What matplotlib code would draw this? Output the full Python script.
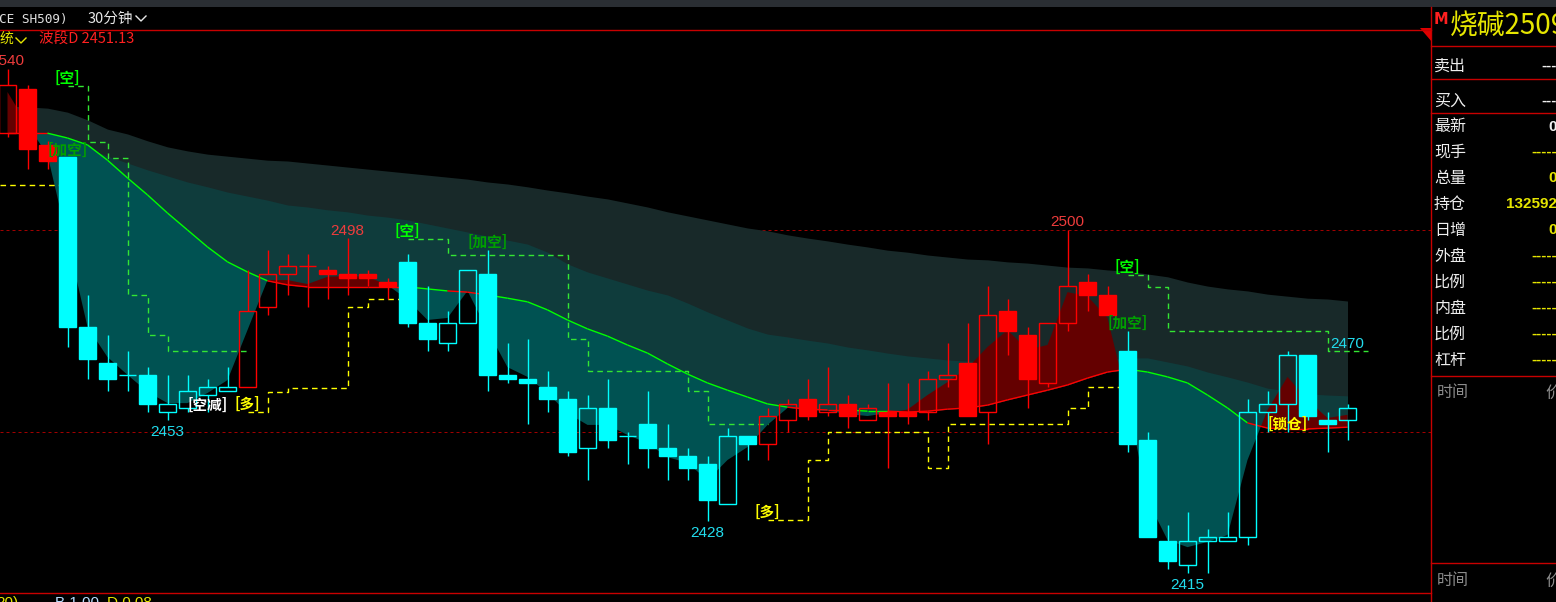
import numpy as np
import matplotlib
matplotlib.use("Agg")
import matplotlib.pyplot as plt
from matplotlib.patches import Rectangle, Polygon
from matplotlib.collections import LineCollection
from matplotlib.lines import Line2D
from matplotlib.transforms import Affine2D

plt.rcParams['font.family'] = ['Noto Sans CJK SC', 'DejaVu Sans']

# ------------------------------------------------------------------ data
opens = [2524, 2535, 2521, 2518, 2476, 2467, 2464, 2464, 2455, 2456,
         2459, 2460, 2461, 2481, 2489, 2491, 2490, 2489, 2489, 2487,
         2492, 2477, 2472, 2477, 2489, 2464, 2463, 2461, 2458, 2446,
         2456, 2449, 2452, 2446, 2444, 2442, 2432, 2449, 2447, 2453,
         2458, 2455, 2457, 2453, 2455, 2455, 2455, 2463, 2467, 2455,
         2480, 2474, 2462, 2477, 2487, 2484, 2470, 2448, 2423, 2417,
         2423, 2423, 2424, 2455, 2457, 2469, 2453, 2453]
highs = [2540, 2536, 2522, 2518, 2484, 2474, 2470, 2466, 2464, 2464,
         2463, 2466, 2490, 2495, 2494, 2494, 2491, 2498, 2490, 2488,
         2494, 2486, 2480, 2490, 2495, 2472, 2473, 2465, 2460, 2459,
         2463, 2450, 2460, 2452, 2446, 2444, 2451, 2449, 2456, 2458,
         2463, 2466, 2459, 2457, 2462, 2462, 2465, 2472, 2477, 2486,
         2483, 2476, 2477, 2500, 2489, 2486, 2475, 2450, 2427, 2430,
         2426, 2430, 2458, 2460, 2470, 2469, 2455, 2457]
lows = [2523, 2515, 2515, 2471, 2463, 2460, 2460, 2455, 2453, 2455,
        2455, 2460, 2461, 2479, 2484, 2481, 2483, 2484, 2486, 2483,
        2476, 2470, 2470, 2477, 2460, 2462, 2452, 2455, 2444, 2438,
        2446, 2442, 2441, 2438, 2438, 2428, 2432, 2443, 2443, 2450,
        2453, 2454, 2451, 2453, 2441, 2452, 2453, 2461, 2454, 2447,
        2469, 2456, 2461, 2475, 2480, 2479, 2445, 2424, 2416, 2415,
        2415, 2423, 2422, 2450, 2450, 2453, 2445, 2448]
closes = [2536, 2520, 2517, 2476, 2468, 2463, 2464, 2457, 2457, 2460,
          2461, 2461, 2480, 2489, 2491, 2491, 2489, 2488, 2488, 2486,
          2477, 2473, 2477, 2490, 2464, 2463, 2462, 2458, 2445, 2456,
          2448, 2449, 2446, 2444, 2441, 2433, 2449, 2447, 2454, 2457,
          2454, 2457, 2454, 2456, 2454, 2454, 2463, 2464, 2454, 2479,
          2475, 2463, 2477, 2486, 2484, 2479, 2447, 2424, 2418, 2423,
          2424, 2424, 2455, 2457, 2469, 2454, 2452, 2456]
# 1 = red (bull regime), -1 = cyan (bear regime)
bar_state = [1, 1, 1, -1, -1, -1, -1, -1, -1, -1,
             -1, -1, 1, 1, 1, 1, 1, 1, 1, 1,
             -1, -1, -1, -1, -1, -1, -1, -1, -1, -1,
             -1, -1, -1, -1, -1, -1, -1, -1, 1, 1,
             1, 1, 1, 1, 1, 1, 1, 1, 1, 1,
             1, 1, 1, 1, 1, 1, -1, -1, -1, -1,
             -1, -1, -1, -1, -1, -1, -1, -1]
ma_line = [2524.0, 2524.0, 2524.0, 2522.8, 2521.1, 2517.3, 2512.9, 2508.7, 2504.2, 2500.0,
           2495.8, 2492.1, 2489.6, 2487.4, 2486.4, 2485.9, 2485.9, 2485.9, 2485.9, 2485.9,
           2485.9, 2485.4, 2484.9, 2484.6, 2483.9, 2483.1, 2482.2, 2480.2, 2477.7, 2475.5,
           2473.7, 2471.5, 2469.5, 2466.8, 2464.3, 2462.1, 2460.3, 2458.6, 2456.9, 2456.1,
           2455.6, 2455.4, 2455.4, 2455.1, 2455.1, 2454.9, 2455.1, 2455.6, 2455.9, 2456.6,
           2457.9, 2459.1, 2460.3, 2461.6, 2463.3, 2464.8, 2465.5, 2464.8, 2463.6, 2462.1,
           2459.1, 2455.9, 2452.2, 2450.9, 2450.7, 2450.7, 2450.9, 2451.13]
fast_line = [2534.2, 2526.0, 2518.6, 2497.5, 2476.0, 2468.5, 2464.1, 2459.9, 2457.1, 2457.1,
             2459.6, 2462.8, 2475.2, 2487.6, 2487.6, 2486.6, 2488.4, 2488.6, 2488.4, 2486.4,
             2482.7, 2477.7, 2478.2, 2484.9, 2475.2, 2466.0, 2463.6, 2459.6, 2454.6, 2451.7,
             2451.7, 2449.2, 2447.2, 2443.7, 2442.3, 2438.0, 2443.0, 2446.2, 2451.7, 2455.9,
             2455.4, 2455.2, 2454.4, 2453.9, 2454.6, 2455.5, 2459.1, 2462.3, 2465.8, 2471.0,
             2475.2, 2470.3, 2471.5, 2484.6, 2483.6, 2478.2, 2457.9, 2433.1, 2423.2, 2421.4,
             2422.7, 2424.4, 2443.0, 2455.4, 2463.6, 2457.9, 2453.4, 2454.2]
band_outer = [2530.7, 2530.5, 2530.2, 2529.2, 2527.3, 2525.0, 2523.8, 2522.1, 2520.6, 2519.6,
              2518.8, 2518.3, 2517.8, 2517.3, 2517.1, 2516.6, 2516.1, 2515.6, 2515.1, 2514.6,
              2514.1, 2513.6, 2513.1, 2512.6, 2511.9, 2511.4, 2510.7, 2509.9, 2509.2, 2508.4,
              2507.7, 2506.7, 2505.7, 2504.5, 2503.5, 2502.5, 2501.5, 2500.5, 2499.8, 2498.8,
              2498.0, 2497.3, 2496.5, 2495.8, 2495.0, 2494.5, 2493.8, 2493.3, 2492.8, 2492.6,
              2492.1, 2491.8, 2491.3, 2490.8, 2490.6, 2490.1, 2489.8, 2489.1, 2488.4, 2487.1,
              2486.1, 2485.4, 2484.9, 2484.1, 2483.6, 2483.1, 2482.9, 2482.4]
band_inner = [2524.3, 2524.3, 2524.0, 2522.3, 2520.3, 2518.3, 2516.6, 2514.9, 2513.4, 2511.9,
              2510.7, 2509.4, 2508.4, 2507.4, 2506.2, 2505.7, 2505.0, 2504.5, 2503.7, 2503.2,
              2502.5, 2501.5, 2500.5, 2499.5, 2498.5, 2497.5, 2496.5, 2494.5, 2491.6, 2489.6,
              2488.1, 2486.6, 2485.1, 2483.9, 2481.9, 2479.7, 2477.7, 2475.7, 2474.2, 2473.5,
              2472.7, 2472.0, 2471.0, 2470.3, 2469.5, 2468.8, 2468.3, 2467.8, 2467.5, 2467.5,
              2467.5, 2467.3, 2467.3, 2467.3, 2467.5, 2467.8, 2468.3, 2468.3, 2467.3, 2466.3,
              2464.8, 2463.6, 2462.3, 2460.8, 2460.1, 2459.4, 2459.1, 2458.9]
# colour state of each MA segment (bar i -> bar i+1)
ma_seg_state = [1, 1, -1, -1, -1, -1, -1, -1, -1, -1,
                -1, -1, -1, 1, 1, 1, 1, 1, 1, 1,
                -1, -1, 1, 1, -1, -1, -1, -1, -1, -1,
                -1, -1, -1, -1, -1, -1, -1, -1, -1, 1,
                1, 1, -1, -1, 1, 1, 1, 1, 1, 1,
                1, 1, 1, 1, 1, 1, -1, -1, -1, -1,
                -1, -1, 1, 1, 1, 1, 1]
stop_level = [2511.2, 2511.2, 2511.2, 2535.7, 2521.8, 2517.8, 2483.9, 2474.0, 2470.0, 2470.0,
              2470.0, 2470.0, 2454.9, 2459.9, 2460.8, 2460.8, 2460.8, 2480.9, 2482.9, 2482.9,
              2497.8, 2497.8, 2493.8, 2493.8, 2493.8, 2493.8, 2493.8, 2493.8, 2473.0, 2465.1,
              2465.1, 2465.1, 2465.1, 2465.1, 2460.1, 2451.9, 2451.9, 2451.9, 2428.1, 2428.1,
              2443.0, 2449.9, 2449.9, 2449.9, 2449.9, 2449.9, 2441.0, 2451.9, 2451.9, 2451.9,
              2451.9, 2451.9, 2451.9, 2455.9, 2461.1, 2461.1, 2488.8, 2485.9, 2475.0, 2475.0,
              2475.0, 2475.0, 2475.0, 2475.0, 2475.0, 2475.0, 2470.0, 2470.0]
# 1 = long stop (yellow), -1 = short stop (green)
stop_side = [1, 1, 1, -1, -1, -1, -1, -1, -1, -1,
             -1, -1, 1, 1, 1, 1, 1, 1, 1, 1,
             -1, -1, -1, -1, -1, -1, -1, -1, -1, -1,
             -1, -1, -1, -1, -1, -1, -1, -1, 1, 1,
             1, 1, 1, 1, 1, 1, 1, 1, 1, 1,
             1, 1, 1, 1, 1, 1, -1, -1, -1, -1,
             -1, -1, -1, -1, -1, -1, -1, -1]
ref_levels = [2500, 2450]
signal_bars = [3, 3, 10, 12, 20, 24, 38, 56, 56, 64]
signal_texts = ['[空]', '[加空]', '[空减]', '[多]', '[空]', '[加空]', '[多]', '[空]', '[加空]', '[锁仓]']
signal_kinds = ['short', 'add', 'reduce', 'long', 'short', 'add', 'long', 'short', 'add', 'lock']
peak_bars = [0, 17, 53]
trough_bars = [8, 35, 59]

symbol_header = 'CE SH509)'
period_label = '30分钟'
system_label = '统'
indicator_name = '波段D'
quote_flag = 'M'
quote_title = '烧碱2509'
quote_labels = ['卖出', '买入', '最新', '现手', '总量', '持仓', '日增', '外盘', '比例', '内盘', '比例', '杠杆']
quote_values = ['---', '---', '0', '-----', '0', '132592', '0', '-----', '-----', '-----', '-----', '-----']
quote_value_white = [True, True, True, False, False, False, False, False, False, False, False, False]
tick_header = ['时间', '价']
footer_items = ['20)', 'B 1.00', 'D 0.08']

# ------------------------------------------------------------------ figure
W, H = 1556, 602
fig = plt.figure(figsize=(W / 100, H / 100), dpi=100, facecolor='black')
pix = Affine2D().scale(1 / W, -1 / H).translate(0, 1) + fig.transFigure

RED = '#ff0000'
CYAN = '#00ffff'
YEL = '#ffff00'
FRAME = '#c80000'

PLOT_L, PLOT_R, PLOT_T, PLOT_B = 0, 1431, 30, 592
ax = fig.add_axes([PLOT_L / W, 1 - PLOT_B / H, (PLOT_R - PLOT_L) / W, (PLOT_B - PLOT_T) / H])
ax.set_facecolor('black')
ax.set_axis_off()
BAR_PX, FIRST_PX = 20.0, 7.5
x_left = -FIRST_PX / BAR_PX
ax.set_xlim(x_left, (PLOT_R - PLOT_L - FIRST_PX) / BAR_PX)
PRICE_PX = 4.035
ax.set_ylim(2500 - (PLOT_B - 230) / PRICE_PX, 2500 + (230 - PLOT_T) / PRICE_PX)

n = len(closes)
x = np.arange(n)
ma = np.array(ma_line)
fast = np.array(fast_line)
PT = 0.72  # points per pixel

# reference lines
for lv in ref_levels:
    ax.axhline(lv, color='#a00000', lw=PT, ls=(0, (3, 3)), zorder=1)

# bands and fills
ax.fill_between(x, ma, band_outer, color='#182929', lw=0, zorder=2)
ax.fill_between(x, ma, band_inner, color='#0f3c3c', lw=0, zorder=3)
ax.fill_between(x, ma, fast, where=fast <= ma, interpolate=True, color='#005252', lw=0, zorder=4)
ax.fill_between(x, ma, fast, where=fast >= ma, interpolate=True, color='#640000', lw=0, zorder=4)

# MA line coloured by segment
segs = [[(i, ma[i]), (i + 1, ma[i + 1])] for i in range(n - 1)]
cols = [RED if s > 0 else '#00ff00' for s in ma_seg_state]
ax.add_collection(LineCollection(segs, colors=cols, linewidths=1.0, zorder=5))

# stop lines
i = 0
while i < n:
    j = i
    while j + 1 < n and stop_side[j + 1] == stop_side[i]:
        j += 1
    xs = [float(k) for k in range(i, j + 2)]
    ys = stop_level[i:j + 1] + [stop_level[j]]
    if i == 0:
        xs[0] = x_left
    col = YEL if stop_side[i] > 0 else '#33e633'
    ax.plot(xs, ys, drawstyle='steps-post', color=col, lw=1.0, ls=(0, (4, 3)), zorder=6)
    i = j + 1

# candles
BW = 0.84
for i in range(n):
    o, h, l, c = opens[i], highs[i], lows[i], closes[i]
    col = RED if bar_state[i] > 0 else CYAN
    lo, hi = min(o, c), max(o, c)
    if h > hi:
        ax.vlines(i, hi, h, color=col, lw=1.0, zorder=7)
    if l < lo:
        ax.vlines(i, l, lo, color=col, lw=1.0, zorder=7)
    if c == o:
        ax.hlines(o, i - BW / 2, i + BW / 2, color=col, lw=1.0, zorder=7)
    elif c > o:
        ax.add_patch(Rectangle((i - BW / 2, lo), BW, hi - lo, facecolor='none',
                               edgecolor=col, lw=1.0, zorder=7))
    else:
        ax.add_patch(Rectangle((i - BW / 2, lo), BW, hi - lo, facecolor=col,
                               edgecolor=col, lw=1.0, zorder=7))

NUMF = ['Liberation Sans', 'DejaVu Sans']
CJKF = ['Noto Sans CJK SC', 'DejaVu Sans']


def put(xi, price, text, color, dy_px, va, size, weight='normal', family=CJKF):
    ax.annotate(text, (xi, price), xytext=(0, dy_px * PT), textcoords='offset points',
                ha='center', va=va, color=color, fontsize=size, fontweight=weight,
                family=family, zorder=9, annotation_clip=False)


for b in peak_bars:
    put(b, highs[b], f'{highs[b]}', '#ee3c3c', 3.5, 'baseline', 11, family=NUMF)
for b in trough_bars:
    put(b, lows[b], f'{lows[b]}', '#22ddee', -16.5, 'baseline', 11, family=NUMF)
put(n - 1, stop_level[-1], f'{stop_level[-1]:.0f}', '#22ddee', 3, 'baseline', 11, family=NUMF)

for b, t, k in zip(signal_bars, signal_texts, signal_kinds):
    if k == 'short':
        put(b, stop_level[b], t, '#00ff00', 8, 'center', 10.5, 'bold')
    elif k == 'long':
        put(b, stop_level[b], t, YEL, 8, 'center', 10.5, 'bold')
    elif k == 'add':
        put(b, highs[b], t, '#00a000', 8, 'center', 10.5, 'bold')
    elif k == 'reduce':
        put(b, lows[b], t, 'white', 7, 'center', 10.5, 'bold')
    else:
        put(b, lows[b], t, YEL, 8, 'center', 10.5, 'bold')

# ------------------------------------------------------------------ frame & header
fig.add_artist(Rectangle((0, 0), W, 7, transform=pix, color='#2a2e33', lw=0))


def hline(y, x0, x1, color=FRAME):
    fig.add_artist(Line2D([x0, x1], [y, y], transform=pix, color=color, lw=1.0))


def vline(xp, y0, y1, color=FRAME):
    fig.add_artist(Line2D([xp, xp], [y0, y1], transform=pix, color=color, lw=1.0))


hline(PLOT_T - 0.5, 0, PLOT_R)
hline(PLOT_B + 0.5, 0, PLOT_R)
vline(PLOT_R + 0.5, 7, H)
for yy in [46, 79, 113, 376, 563]:
    hline(yy, PLOT_R, W)
fig.add_artist(Polygon([(1420, 28), (1432, 28), (1432, 42)], closed=True,
                       transform=pix, color='#e00000', lw=0))

fig.text(-1, 19, symbol_header, transform=pix, color='#e0e0e0', fontsize=9.2,
         family=['DejaVu Sans Mono'], va='center', ha='left')
fig.text(88, 19, period_label, transform=pix, color='#e8e8e8', fontsize=10.5,
         family=CJKF, va='center', ha='left')
fig.add_artist(Line2D([136, 141, 146], [16, 21, 16], transform=pix, color='#e8e8e8', lw=1.0))
fig.text(0, 39, system_label, transform=pix, color='#e6e600', fontsize=10,
         family=CJKF, va='center', ha='left')
fig.add_artist(Line2D([16, 21, 26], [38, 43, 38], transform=pix, color='#e6e600', lw=1.0))
fig.text(39, 39, f'{indicator_name} {ma_line[-1]:.2f}', transform=pix, color='#ff2020',
         fontsize=10.5, family=CJKF, va='center', ha='left')

# quote panel
fig.text(1434, 19, quote_flag, transform=pix, color='#ff2020', fontsize=10.5,
         fontweight='bold', family=['DejaVu Sans'], va='center', ha='left')
fig.text(1450, 27, quote_title, transform=pix, color='#e6e600', fontsize=20,
         family=CJKF, va='center', ha='left')
row_y = [66, 101, 127, 152, 178, 204, 230, 256, 282, 308, 334, 360]
for yy, lab, val, wht in zip(row_y, quote_labels, quote_values, quote_value_white):
    fig.text(1434, yy, lab, transform=pix, color='#eeeeee', fontsize=11.5,
             family=CJKF, va='center', ha='left')
    fig.text(1557, yy, val, transform=pix, color='#f0f0f0' if wht else '#e6e600',
             fontsize=11, fontweight='bold', family=NUMF, va='center', ha='right')
for yy in [393, 581]:
    fig.text(1437, yy, tick_header[0], transform=pix, color='#8c8c8c', fontsize=11.5,
             family=CJKF, va='center', ha='left')
    fig.text(1545, yy, tick_header[1], transform=pix, color='#8c8c8c', fontsize=11.5,
             family=CJKF, va='center', ha='left')

# footer (mostly cut off)
fig.text(-4, 596, footer_items[0], transform=pix, color='#e6e600', fontsize=11,
         family=NUMF, va='top', ha='left')
fig.text(55, 596, footer_items[1], transform=pix, color='#b8dcff', fontsize=11,
         family=NUMF, va='top', ha='left')
fig.text(107, 596, footer_items[2], transform=pix, color='#e6e600', fontsize=11,
         family=NUMF, va='top', ha='left')

fig.savefig('out.png', dpi=100, facecolor='black')
